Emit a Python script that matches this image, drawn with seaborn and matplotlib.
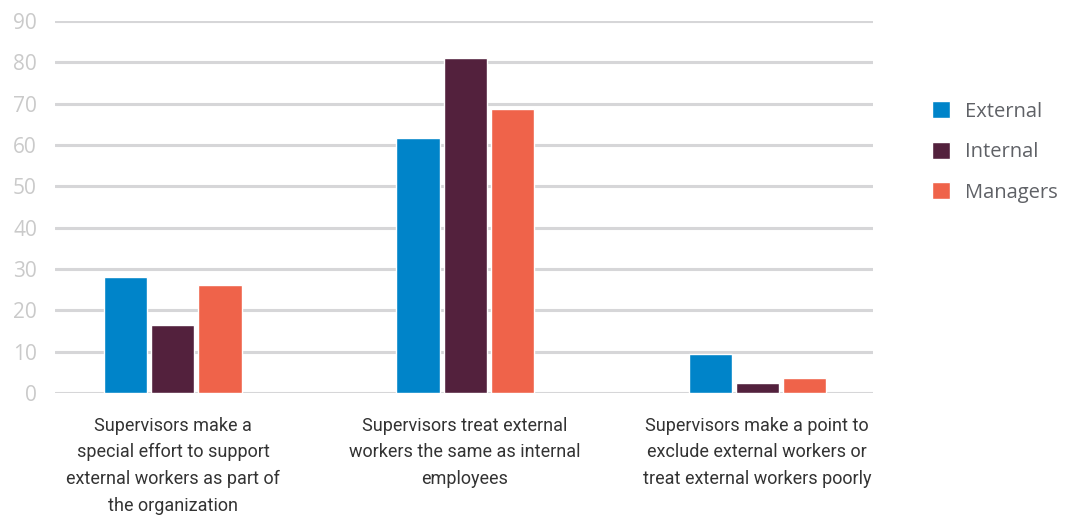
import pandas as pd
import seaborn as sns
import matplotlib.pyplot as plt

# values
categories = [
    "Supervisors make a\nspecial effort to support\nexternal workers as part of\nthe organization",
    "Supervisors treat external\nworkers the same as internal\nemployees",
    "Supervisors make a point to\nexclude external workers or\ntreat external workers poorly",
]
groups = ["External", "Internal", "Managers"]
external = [28.0, 61.7, 9.4]
internal = [16.4, 81.0, 2.4]
managers = [26.1, 68.7, 3.6]
colors = ["#0084c9", "#53213d", "#ef634a"]
yticks = [0, 10, 20, 30, 40, 50, 60, 70, 80, 90]

rows = []
for i, cat in enumerate(categories):
    rows.append({"category": cat, "group": "External", "value": external[i]})
    rows.append({"category": cat, "group": "Internal", "value": internal[i]})
    rows.append({"category": cat, "group": "Managers", "value": managers[i]})
df = pd.DataFrame(rows)

sns.set_style("white")
plt.rcParams["font.family"] = ["Roboto", "DejaVu Sans"]

fig = plt.figure(figsize=(10.72, 5.16), dpi=100)
ax = fig.add_axes([55 / 1072, 1 - 393 / 516, 818 / 1072, 372 / 516])

sns.barplot(data=df, x="category", y="value", hue="group", order=categories,
            hue_order=groups, palette=colors, width=0.483, gap=0.085,
            saturation=1, ax=ax, zorder=3)

ax.set_ylim(0, 90)
ax.set_xlim(-0.404, 2.397)
ax.set_yticks(yticks)
ax.yaxis.grid(True, color="#d6d6d8", linewidth=2.2, zorder=0)
ax.set_axisbelow(True)
for s in ax.spines.values():
    s.set_visible(False)
ax.tick_params(axis="both", length=0)
ax.tick_params(axis="y", pad=13, labelcolor="#cacaca", labelsize=15)
ax.tick_params(axis="x", pad=17, labelcolor="#333333", labelsize=13)
ax.set_yticklabels([str(t) for t in yticks], family=["Open Sans", "DejaVu Sans"])
for lab in ax.get_xticklabels():
    lab.set_linespacing(1.62)
ax.set_xlabel("")
ax.set_ylabel("")

leg = ax.legend(loc="center left", bbox_to_anchor=(932 / 1072, 1 - 152 / 516),
                bbox_transform=fig.transFigure, frameon=False, borderpad=0,
                borderaxespad=0, handlelength=0.9, handleheight=0.9,
                handletextpad=0.75, labelspacing=1.0,
                prop={"family": ["Open Sans", "DejaVu Sans"], "size": 14.5})
for t in leg.get_texts():
    t.set_color("#5f6166")

fig.savefig("out.png", dpi=100)
